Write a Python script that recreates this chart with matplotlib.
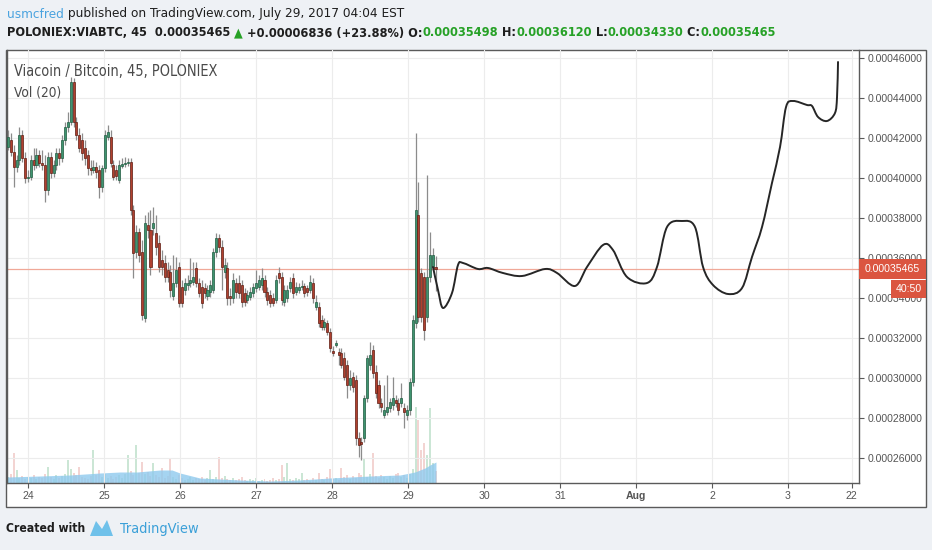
import numpy as np
import matplotlib
matplotlib.use("Agg")
import matplotlib.pyplot as plt
from matplotlib import font_manager as fm
from matplotlib.patches import Rectangle, Polygon, PathPatch
from matplotlib.path import Path
from matplotlib.transforms import blended_transform_factory

W, H = 932, 550
UNIT = 1e-5          # prices below are in units of 1e-5 BTC
AXFONT = ['Liberation Sans', 'DejaVu Sans']

# narrow font for the TradingView header texts, if one is there
_fonts = fm.fontManager.ttflist
if any(f.name == 'Liberation Sans Narrow' for f in _fonts):
    FONT, STRETCH = ['Liberation Sans Narrow', 'DejaVu Sans'], 'normal'
elif any(f.name == 'DejaVu Sans' and f.stretch == 'condensed' for f in _fonts):
    FONT, STRETCH = ['DejaVu Sans'], 'condensed'
else:
    FONT, STRETCH = ['Roboto', 'DejaVu Sans'], 'normal'

bar_start = 23.737   # day of first 45-min candle
bar_days = 0.0375

opens = [41.55, 41.9, 41.3, 40.55, 40.9, 42.15, 41.0, 40.0, 40.05, 40.9,
         40.65, 41.15, 40.75, 40.65, 39.4, 41.05, 40.25, 40.65, 41.25, 41.0,
         41.9, 42.55, 42.8, 44.8, 42.8, 42.15, 41.9, 41.5, 41.15, 40.5,
         40.4, 40.55, 40.4, 39.55, 40.5, 42.05, 42.05, 40.65, 40.4, 39.9,
         40.6, 40.7, 40.75, 40.8, 38.4, 36.3, 37.3, 36.3, 33.0, 37.65,
         37.4, 37.5, 37.25, 36.75, 35.9, 35.75, 35.4, 35.3, 34.1, 34.75,
         35.55, 34.55, 34.4, 34.65, 34.75, 34.8, 35.5, 34.75, 34.55, 34.5,
         34.1, 34.3, 34.4, 36.3, 37.0, 36.55, 35.3, 35.5, 34.1, 34.0,
         34.75, 34.75, 34.65, 34.25, 33.9, 34.05, 34.25, 34.5, 34.55, 34.65,
         34.9, 34.3, 34.15, 34.0, 33.9, 35.25, 35.05, 33.8, 34.0, 34.5,
         35.0, 34.3, 34.4, 34.55, 34.6, 34.5, 34.4, 34.75, 33.55, 33.55,
         32.9, 32.55, 32.75, 32.3, 31.35, 31.65, 31.3, 31.25, 31.0, 30.65,
         29.65, 30.05, 29.9, 27.0, 26.8, 27.0, 29.0, 30.65, 31.4, 30.3,
         29.65, 28.75, 28.15, 28.3, 28.5, 28.65, 28.9, 28.75, 28.75, 28.5,
         28.15, 28.4, 29.8, 32.75, 38.15, 35.25, 35.05, 33.05, 35.05, 35.55,
         35.498]
highs = [42.4, 42.25, 41.65, 41.15, 42.55, 42.4, 41.3, 40.4, 41.15, 41.5,
         41.5, 41.4, 41.4, 41.15, 41.3, 41.3, 40.9, 41.5, 41.5, 42.15,
         42.8, 43.3, 45.05, 45.0, 43.05, 42.5, 42.25, 41.9, 41.4, 40.9,
         40.9, 40.8, 40.65, 40.65, 42.4, 42.65, 42.4, 40.9, 40.65, 40.9,
         41.0, 41.05, 41.0, 41.0, 38.65, 37.65, 37.5, 36.9, 38.15, 38.3,
         38.4, 38.55, 38.15, 37.15, 36.4, 36.15, 35.8, 35.65, 36.15, 36.05,
         35.8, 34.9, 35.0, 35.15, 36.0, 35.8, 35.8, 35.0, 34.9, 34.75,
         34.65, 34.9, 36.5, 37.25, 37.2, 36.9, 36.0, 35.8, 34.5, 35.25,
         35.0, 35.15, 34.9, 34.5, 34.4, 34.55, 34.75, 35.4, 35.15, 35.5,
         35.15, 34.55, 34.4, 34.25, 35.15, 35.55, 35.3, 34.65, 34.65, 35.05,
         35.25, 34.8, 34.75, 34.9, 34.75, 34.65, 35.15, 35.0, 34.15, 33.8,
         33.15, 33.0, 32.9, 32.5, 31.6, 31.9, 31.5, 31.5, 31.3, 30.9,
         30.4, 30.3, 30.15, 27.3, 27.05, 29.15, 31.15, 31.8, 31.65, 30.65,
         29.9, 29.0, 29.65, 30.15, 29.0, 30.05, 29.15, 29.0, 29.75, 28.75,
         28.65, 30.0, 33.15, 42.25, 39.8, 35.5, 35.3, 40.15, 37.3, 36.5,
         36.12]
lows = [41.4, 41.1, 39.55, 40.3, 40.65, 40.8, 39.75, 39.8, 39.9, 40.4,
        40.5, 40.55, 40.4, 38.8, 39.15, 40.0, 40.05, 40.4, 40.65, 40.8,
        41.65, 42.3, 42.65, 42.55, 41.9, 41.3, 40.9, 40.65, 40.15, 40.15,
        40.25, 40.0, 39.0, 39.3, 40.3, 41.9, 40.55, 39.9, 39.9, 39.75,
        40.5, 40.55, 40.6, 38.15, 35.0, 36.0, 35.8, 32.9, 32.8, 37.0,
        35.15, 37.15, 36.15, 35.3, 35.15, 34.8, 34.8, 34.05, 33.9, 34.55,
        33.55, 33.55, 34.15, 34.4, 34.55, 34.65, 34.55, 34.05, 33.5, 34.0,
        33.9, 34.05, 34.25, 36.05, 36.3, 34.4, 35.0, 33.65, 33.65, 33.75,
        34.0, 34.0, 33.55, 33.6, 33.75, 33.9, 34.05, 34.3, 34.4, 34.4,
        34.05, 33.65, 33.55, 33.6, 33.75, 34.75, 33.65, 33.6, 33.8, 34.3,
        34.0, 34.15, 34.25, 34.4, 34.05, 34.1, 34.25, 33.75, 33.4, 32.55,
        32.4, 32.4, 32.15, 31.3, 31.1, 31.55, 30.65, 30.5, 29.9, 29.0,
        29.4, 29.3, 26.65, 26.05, 25.9, 26.8, 28.8, 30.4, 30.0, 29.0,
        28.5, 28.3, 28.0, 28.15, 28.3, 28.4, 28.55, 28.15, 28.55, 27.5,
        27.9, 28.15, 29.6, 32.5, 32.8, 32.8, 31.9, 32.8, 34.8, 35.4,
        34.33]
closes = [42.05, 41.3, 40.55, 40.9, 42.15, 41.0, 40.0, 40.05, 40.9, 40.65,
          41.15, 40.75, 40.65, 39.4, 41.05, 40.25, 40.65, 41.25, 41.0, 41.9,
          42.55, 42.8, 44.8, 42.8, 42.15, 41.5, 41.25, 41.0, 40.5, 40.4,
          40.55, 40.3, 39.55, 40.5, 42.15, 42.3, 40.75, 40.05, 40.1, 40.65,
          40.7, 40.75, 40.8, 38.4, 36.25, 37.3, 36.15, 33.15, 37.75, 37.4,
          35.55, 37.75, 36.55, 35.55, 35.55, 35.05, 35.05, 34.4, 34.75, 35.4,
          33.75, 33.75, 34.75, 34.75, 34.9, 35.05, 34.75, 34.25, 33.75, 34.25,
          34.4, 34.65, 36.3, 37.0, 36.55, 35.55, 35.65, 34.0, 34.0, 34.9,
          34.3, 34.25, 33.8, 33.8, 34.15, 34.3, 34.55, 34.75, 34.9, 35.0,
          34.3, 33.9, 33.75, 33.75, 34.9, 35.0, 33.9, 34.4, 34.4, 34.8,
          34.25, 34.55, 34.55, 34.6, 34.25, 34.3, 34.8, 34.0, 33.8, 32.75,
          32.55, 32.8, 32.3, 31.5, 31.25, 31.75, 31.15, 30.65, 30.05, 29.65,
          30.0, 29.55, 27.0, 26.65, 26.7, 29.0, 31.0, 31.15, 30.25, 29.25,
          28.75, 28.55, 28.4, 28.55, 28.8, 29.0, 28.75, 28.4, 29.0, 28.3,
          28.4, 29.8, 32.9, 38.4, 33.05, 33.05, 32.4, 35.05, 36.15, 36.15,
          35.465]
volumes = [6, 9, 30, 13, 5, 7, 4, 6, 5, 8,
           4, 6, 5, 9, 16, 6, 4, 8, 5, 7,
           9, 23, 14, 10, 8, 16, 6, 5, 4, 7,
           33, 8, 13, 6, 9, 5, 7, 4, 6, 8,
           5, 9, 28, 12, 8, 38, 10, 21, 9, 11,
           7, 20, 8, 6, 15, 5, 7, 24, 6, 4,
           8, 5, 3, 4, 6, 3, 5, 4, 6, 3,
           5, 13, 4, 6, 26, 5, 7, 4, 3, 5,
           3, 4, 6, 3, 2, 4, 3, 5, 2, 3,
           4, 2, 3, 5, 3, 4, 18, 6, 20, 4,
           3, 5, 4, 10, 3, 4, 2, 5, 3, 10,
           4, 3, 6, 14, 4, 5, 3, 15, 6, 8,
           4, 7, 5, 10, 8, 25, 6, 9, 30, 7,
           5, 8, 6, 4, 7, 5, 9, 10, 6, 8,
           5, 9, 14, 76, 63, 33, 40, 28, 75, 20,
           12]

# Vol (20) moving average area
vol_ma_days = [23.724, 24.158, 24.553, 24.947, 25.211, 25.434, 25.737, 25.895,
               26.0, 26.263, 26.789, 27.184, 27.579, 27.974, 28.5, 28.895,
               29.092, 29.224, 29.289, 29.368]
vol_ma = [6, 7, 8, 10, 11, 11, 13, 13, 10, 5, 3, 2, 3, 5, 7, 8, 11, 15, 18, 21]

# hand drawn projection
drawn_days = [29.329, 29.395, 29.461, 29.579, 29.658, 29.724, 29.921, 30.053,
              30.25, 30.50, 30.803, 30.961, 31.197, 31.355, 31.566, 31.697,
              31.882, 32.145, 32.276, 32.408, 32.605, 32.776, 32.882, 33.013,
              33.211, 33.395, 33.526, 33.658, 33.789, 33.895, 33.974, 34.066,
              34.25, 34.316, 34.395, 34.513, 34.618, 34.645, 34.658]
drawn_price = [35.55, 34.40, 33.50, 34.25, 35.65, 35.75, 35.45, 35.50,
               35.25, 35.10, 35.45, 35.25, 34.60, 35.55, 36.65, 36.40,
               35.05, 34.75, 35.55, 37.55, 37.85, 37.55, 35.55, 34.65,
               34.20, 34.50, 36.05, 37.55, 39.75, 41.55, 43.55, 43.85,
               43.65, 43.60, 43.05, 42.85, 43.25, 44.05, 45.80]

last_price = 35.465
day_ticks = [24, 25, 26, 27, 28, 29, 30, 31, 32, 33, 34, 34.84]
day_labels = ['24', '25', '26', '27', '28', '29', '30', '31', 'Aug', '2', '3', '22']
price_ticks = [26, 28, 30, 32, 34, 36, 38, 40, 42, 44, 46]

UP, DOWN = '#3f9470', '#b0402f'
UP_EDGE, DOWN_EDGE = '#1f5a40', '#5e1c12'

fig = plt.figure(figsize=(W / 100, H / 100), dpi=100, facecolor='#eef1f5')
# white chart frame
fig.add_artist(Rectangle((6 / W, 1 - 507 / H), 920 / W, 457 / H, transform=fig.transFigure,
                         facecolor='white', edgecolor='#5a5a5a', lw=1.0, zorder=0))

ax = fig.add_axes([7 / W, 1 - 483 / H, 852 / W, 433 / H])
axv = ax.twinx()
ax.set_zorder(axv.get_zorder() + 1)
ax.patch.set_visible(False)
axv.patch.set_facecolor('white')

t = bar_start + np.arange(len(closes)) * bar_days
o = np.array(opens)
c = np.array(closes)
up = c >= o

# volume pane
vcol = np.where(up, '#b5dcc4', '#eec3c0')
axv.bar(t, volumes, width=bar_days * 0.7, color=vcol, alpha=0.7, lw=0)
axv.fill_between(vol_ma_days, 0, vol_ma, color='#8fcaee', alpha=0.8, lw=0)
axv.set_ylim(0, 433)
axv.set_yticks([])
for s in axv.spines.values():
    s.set_visible(False)

# candles
ax.vlines(t, lows, highs, color='#8c8c8c', lw=0.9, zorder=3)
body_lo = np.minimum(o, c)
body_h = np.maximum(np.abs(c - o), 0.06)
ax.bar(t, body_h, bottom=body_lo, width=bar_days * 0.72,
       color=np.where(up, UP, DOWN), edgecolor=np.where(up, UP_EDGE, DOWN_EDGE),
       lw=0.5, zorder=4)

ax.axhline(last_price, color='#f0a898', lw=0.9, zorder=2)

# smooth pen stroke through the drawn points (Catmull-Rom as cubic Bezier)
P = np.column_stack([drawn_days, drawn_price])
verts, codes = [P[0]], [Path.MOVETO]
n = len(P)
for i in range(n - 1):
    p0, p1, p2, p3 = P[max(i - 1, 0)], P[i], P[i + 1], P[min(i + 2, n - 1)]
    verts += [p1 + (p2 - p0) / 6, p2 - (p3 - p1) / 6, p2]
    codes += [Path.CURVE4] * 3
ax.add_patch(PathPatch(Path(verts, codes), fill=False, edgecolor='#262626', lw=1.4,
                       zorder=6, joinstyle='round', capstyle='round'))

ax.set_xlim(23.724, 34.934)
ax.set_ylim(24.75, 46.4)
axv.set_xlim(23.724, 34.934)

ax.set_xticks(day_ticks)
ax.set_xticklabels(day_labels)
for lab in ax.get_xticklabels():
    if lab.get_text() == 'Aug':
        lab.set_fontweight('bold')
ax.yaxis.tick_right()
ax.set_yticks(price_ticks)
ax.set_yticklabels([f'{v * UNIT:.8f}' for v in price_ticks])
ax.tick_params(axis='both', colors='#5a5a5a', labelcolor='#555555', labelsize=7.6,
               length=3.5, width=0.8, direction='out')
ax.tick_params(axis='x', pad=2)
ax.tick_params(axis='y', pad=3)
for lab in ax.get_xticklabels() + ax.get_yticklabels():
    lab.set_family(AXFONT)
ax.grid(True, color='#ececec', lw=0.8, zorder=0)
ax.spines['top'].set_visible(False)
for side in ['left', 'right', 'bottom']:
    ax.spines[side].set_color('#5a5a5a')
    ax.spines[side].set_linewidth(1.0)

# price labels on the scale
tr = blended_transform_factory(ax.transAxes, ax.transData)
ax.add_patch(Rectangle((1.0, last_price - 0.5), 67 / 852, 1.0, transform=tr,
                       facecolor='#db5540', edgecolor='none', clip_on=False, zorder=8))
ax.text(1.0 + 33.5 / 852, last_price, f'{last_price * UNIT:.8f}', transform=tr,
        color='white', fontsize=7.6, ha='center', va='center', family=AXFONT,
        clip_on=False, zorder=9)
ax.add_patch(Rectangle((1.0376, 34.0), 35 / 852, 0.9, transform=tr,
                       facecolor='#db5540', edgecolor='none', clip_on=False, zorder=8))
ax.text(1.0376 + 17.5 / 852, 34.45, '40:50', transform=tr, color='white', fontsize=7.6,
        ha='center', va='center', family=AXFONT, clip_on=False, zorder=9)

renderer = fig.canvas.get_renderer()


def write_runs(x, y, runs, width, weight='normal', size=10.0):
    # place coloured pieces one after another, sized to span about `width` pixels
    pieces = []
    total = 0.0
    for s, col in runs:
        tx = fig.text(0, 0, s, color=col, fontsize=size, ha='left', va='center',
                      family=FONT, stretch=STRETCH, weight=weight)
        total += tx.get_window_extent(renderer=renderer).width
        pieces.append(tx)
    k = width / total
    for tx in pieces:
        tx.set_fontsize(size * k)
        tx.set_position((x / W, 1 - y / H))
        x += tx.get_window_extent(renderer=renderer).width


GREEN = '#26a126'
GROW = 1.18   # the reference face is narrower, so let the text run a bit longer
write_runs(7, 14, [('usmcfred', '#4aa3df'),
                   (' published on TradingView.com, July 29, 2017 04:04 EST', '#1e1e1e')],
           337 * GROW)
write_runs(7, 33, [('POLONIEX:VIABTC, 45  0.00035465 ', '#1e1e1e'), ('\u25b2', GREEN),
                   (' +0.00006836 (+23.88%) O:', '#1e1e1e'), ('0.00035498', GREEN),
                   (' H:', '#1e1e1e'), ('0.00036120', GREEN),
                   (' L:', '#1e1e1e'), ('0.00034330', GREEN),
                   (' C:', '#1e1e1e'), ('0.00035465', GREEN)], 650 * GROW, weight='semibold')
write_runs(14, 72, [('Viacoin / Bitcoin, 45, POLONIEX', '#4a4a4a')], 173 * GROW)
write_runs(14, 92, [('Vol (20)', '#4a4a4a')], 40 * GROW)

# footer
write_runs(6, 529, [('Created with', '#1e1e1e')], 67 * GROW, weight='bold')
fig.add_artist(Polygon([(90 / W, 1 - 536 / H), (96 / W, 1 - 521 / H), (102 / W, 1 - 529 / H),
                        (107 / W, 1 - 520 / H), (113 / W, 1 - 536 / H)],
                       closed=True, transform=fig.transFigure, facecolor='#6fc1ea',
                       edgecolor='none'))
write_runs(120, 529, [('TradingView', '#3ba0d8')], 67 * GROW)

fig.savefig('out.png', dpi=100, facecolor=fig.get_facecolor())
